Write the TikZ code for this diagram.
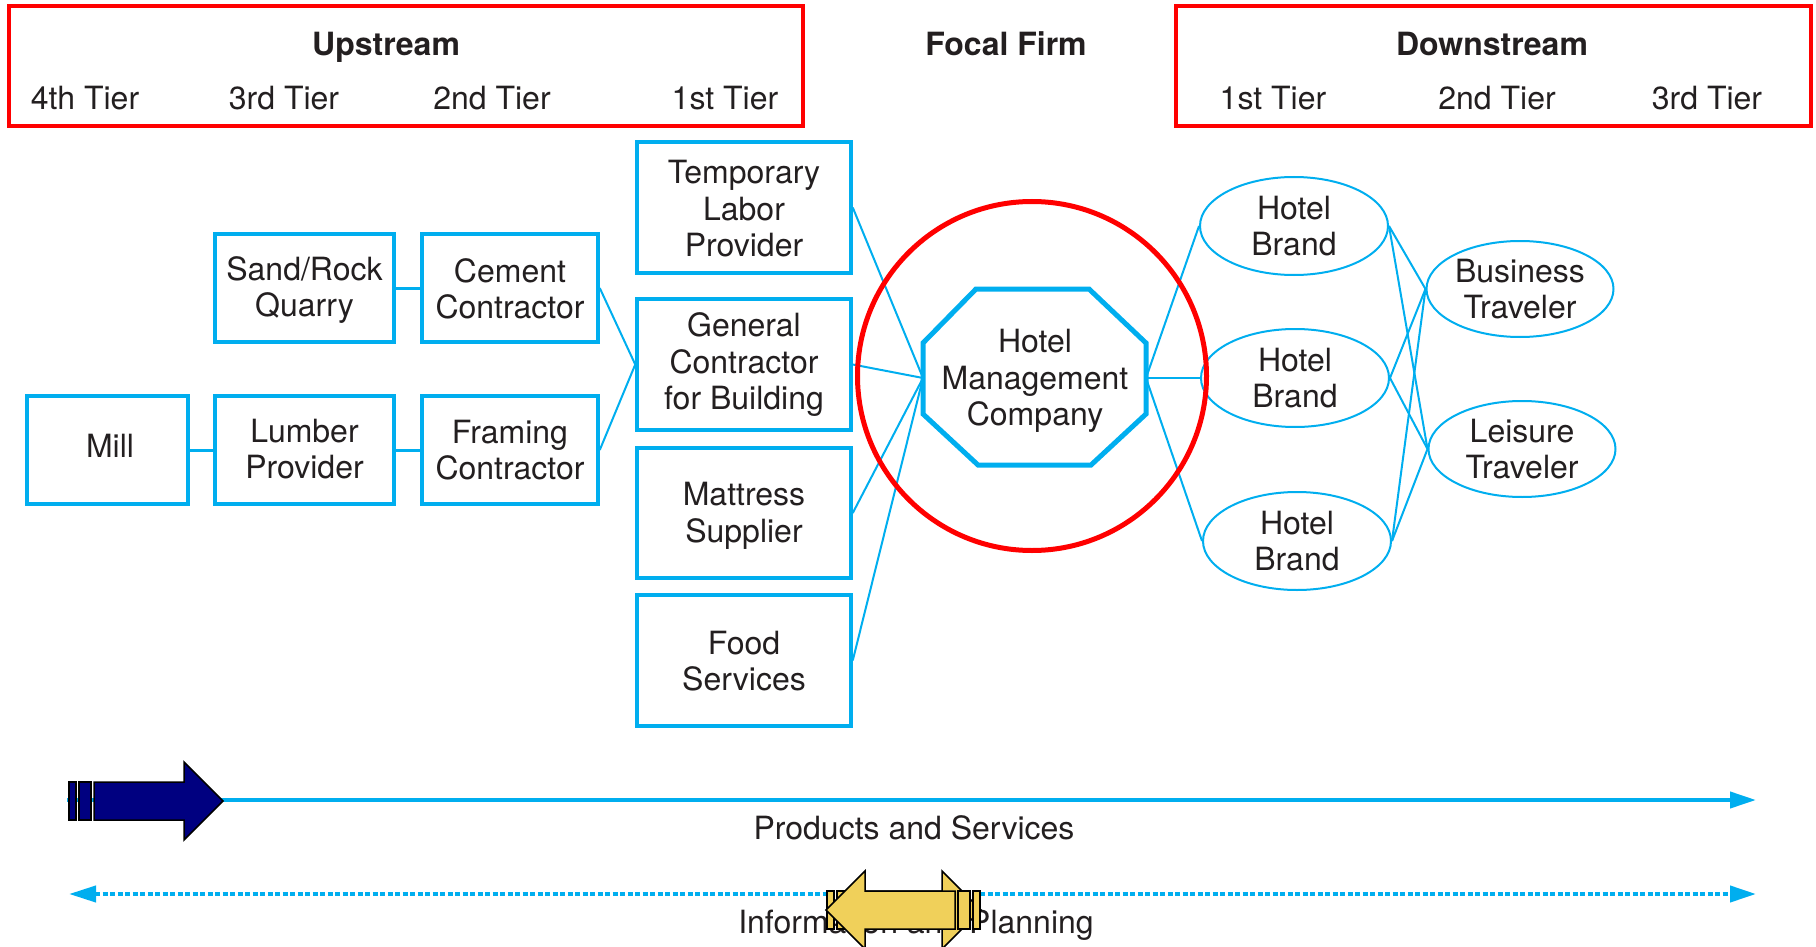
\documentclass[tikz,border=0pt]{standalone}
\usepackage{fontspec}
\setmainfont{TeX Gyre Heros}
\usetikzlibrary{shapes.geometric,arrows.meta}
\definecolor{cblue}{RGB}{0,174,239}
\definecolor{tcol}{RGB}{35,31,32}
\definecolor{navyb}{RGB}{0,0,128}
\definecolor{ygold}{RGB}{240,208,90}
\newcommand\blkarrow[4]{%
  \begin{scope}[shift={(#1,#2)}, xscale=#3]
    \filldraw[fill=#4, draw=black, line width=1.5] (0,-19) rectangle (7,19);
    \filldraw[fill=#4, draw=black, line width=1.5] (10,-19) rectangle (22,19);
    \filldraw[fill=#4, draw=black, line width=1.5] (25,-19) -- (115,-19) -- (115,-39) -- (154,0) -- (115,39) -- (115,19) -- (25,19) -- cycle;
  \end{scope}}
\begin{document}
\begin{tikzpicture}[x=1pt,y=-1pt, font=\fontsize{32}{36.5}\selectfont, text=tcol,
  box/.style={draw=cblue, line width=3.5, align=center, inner sep=0, fill=white},
  oval/.style={ellipse, draw=cblue, line width=2, align=center, inner sep=0, fill=white, minimum width=188, minimum height=98},
  link/.style={draw=cblue, line width=2},
  hlink/.style={draw=cblue, line width=3},
  redbox/.style={draw=red, line width=4},
  hdr/.style={anchor=base, font=\fontsize{32}{36.5}\selectfont\bfseries},
  tier/.style={anchor=base},
  flow/.style={draw=cblue, line width=4},
  lbl/.style={align=center}]
\useasboundingbox (0,0) rectangle (1816,947);

% header boxes
\draw[redbox] (9,6) rectangle (803,126);
\draw[redbox] (1176,6) rectangle (1811,126);
\node[hdr] (up) at (386,56) {Upstream};
\node[hdr] (ff) at (1006,56) {Focal Firm};
\node[hdr] (down) at (1492,56) {Downstream};
\node[tier] (t4) at (85,110) {4th Tier};
\node[tier] (t3u) at (284,110) {3rd Tier};
\node[tier] (t2u) at (492,110) {2nd Tier};
\node[tier] (t1u) at (725,110) {1st Tier};
\node[tier] (t1d) at (1273,110) {1st Tier};
\node[tier] (t2d) at (1497,110) {2nd Tier};
\node[tier] (t3d) at (1707,110) {3rd Tier};

% upstream boxes
\node[box, minimum width=179, minimum height=108] (sand) at (304.5,288) {};
\node[lbl] (sandt) at (304.5,290) {Sand/Rock\\Quarry};
\node[box, minimum width=176, minimum height=108] (cem) at (510,288) {};
\node[lbl] (cemt) at (510,289) {Cement\\Contractor};
\node[box, minimum width=161, minimum height=108] (mill) at (107.5,450) {};
\node[lbl] (millt) at (110,446) {Mill};
\node[box, minimum width=179, minimum height=108] (lum) at (304.5,450) {};
\node[lbl] (lumt) at (304.5,449) {Lumber\\Provider};
\node[box, minimum width=176, minimum height=108] (frm) at (510,450) {};
\node[lbl] (frmt) at (510,450) {Framing\\Contractor};
\node[box, minimum width=214, minimum height=131] (tlp) at (744,207.5) {};
\node[lbl] (tlpt) at (744,209) {Temporary\\Labor\\Provider};
\node[box, minimum width=214, minimum height=131] (gc) at (744,364.5) {};
\node[lbl] (gct) at (744,365) {General\\Contractor\\for Building};
\node[box, minimum width=214, minimum height=130] (mat) at (744,513) {};
\node[lbl] (matt) at (744,516) {Mattress\\Supplier};
\node[box, minimum width=214, minimum height=131] (food) at (744,660.5) {};
\node[lbl] (foodt) at (744,661) {Food\\Services};

% downstream
\node[oval] (hb1) at (1294,226) {Hotel\\Brand};
\node[oval] (hb2) at (1295,378) {Hotel\\Brand};
\node[oval] (hb3) at (1297,541) {Hotel\\Brand};
\node[oval, minimum width=187, minimum height=96] (bt) at (1520,289) {Business\\Traveler};
\node[oval, minimum width=187, minimum height=96] (lt) at (1522,449) {Leisure\\Traveler};

% focal firm octagon
\coordinate (hmcW) at (923,378);
\coordinate (hmcE) at (1146,378);

% connectors
\draw[hlink] (sand.east) -- (cem.west);
\draw[hlink] (mill.east) -- (lum.west);
\draw[hlink] (lum.east) -- (frm.west);
\draw[link] (cem.east) -- (gc.west);
\draw[link] (frm.east) -- (gc.west);
\draw[link] (tlp.east) -- (hmcW);
\draw[link] (gc.east) -- (hmcW);
\draw[link] (mat.east) -- (hmcW);
\draw[link] (food.east) -- (hmcW);
\draw[link] (hmcE) -- (hb1.west);
\draw[link] (hmcE) -- (hb2.west);
\draw[link] (hmcE) -- (hb3.west);
\foreach \h in {hb1,hb2,hb3}{
  \draw[link] (\h.east) -- (bt.west);
  \draw[link] (\h.east) -- (lt.west);
}

\draw[cblue, line width=5, fill=white, line join=miter] (976,289) -- (1089,289) -- (1146,343) -- (1146,414) -- (1091,465) -- (978,465) -- (923,414) -- (923,343) -- cycle;
\node[align=center] (hmc) at (1035,381) {Hotel\\Management\\Company};

\draw[red, line width=5] (1032,376) circle (174.5);

% flows
\coordinate (ps0) at (67,800);
\coordinate (ps1) at (1756,800);
\coordinate (ip0) at (69,894);
\coordinate (ip1) at (1756,894);
\draw[flow, -{Triangle[length=26pt,width=16pt]}] (ps0) -- (ps1);
\draw[flow, dash pattern=on 5pt off 2.5pt, {Triangle[length=27pt,width=16pt]}-{Triangle[length=26pt,width=16pt]}] (ip0) -- (ip1);
\node[anchor=base] (pslab) at (914,839) {Products and Services};
\node[anchor=base] (iplab) at (916,933) {Information and Planning};

\blkarrow{69}{801}{1}{navyb}
\blkarrow{827}{910}{1}{ygold}
\blkarrow{980}{910}{-1}{ygold}
\end{tikzpicture}
\end{document}
